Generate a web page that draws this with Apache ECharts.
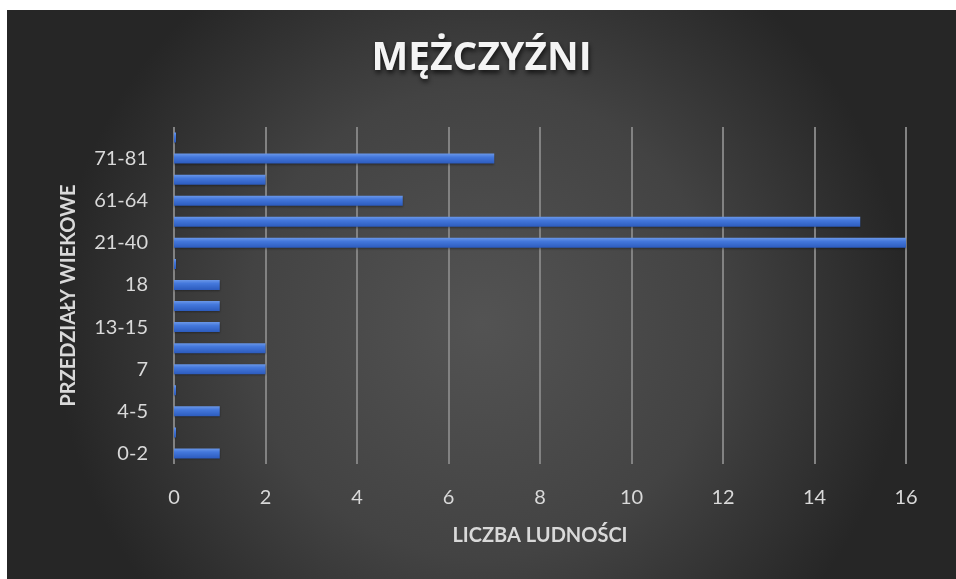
<!DOCTYPE html>
<html>
<head>
<meta charset="utf-8">
<script src="https://cdn.jsdelivr.net/npm/echarts@6/dist/echarts.min.js"></script>
<style>
  html, body { margin: 0; padding: 0; background: #ffffff; }
  #chart { position: absolute; left: 7px; top: 10px; width: 949px; height: 569px; }
</style>
</head>
<body>
<div id="chart"></div>
<script>
// Data (bottom to top)
const categories = ["0-2", "3", "4-5", "6", "7", "8-12", "13-15", "16-17", "18", "19-20", "21-40", "41-60", "61-64", "65-70", "71-81", "82+"];
const values = [1, 0, 1, 0, 2, 2, 1, 1, 1, 0, 16, 15, 5, 2, 7, 0];
const xTicks = [0, 2, 4, 6, 8, 10, 12, 14, 16];
const titleText = "MĘŻCZYŹNI";
const xName = "LICZBA LUDNOŚCI";
const yName = "PRZEDZIAŁY WIEKOWE";

const chart = echarts.init(document.getElementById('chart'), null, { renderer: 'canvas' });
const font = 'Lato, "Open Sans", sans-serif';

chart.setOption({
  backgroundColor: new echarts.graphic.RadialGradient(0.5, 0.55, 0.75, [
    { offset: 0, color: '#535353' },
    { offset: 0.55, color: '#434343' },
    { offset: 1, color: '#262626' }
  ]),
  title: {
    text: titleText,
    left: 'center',
    top: 24,
    textStyle: {
      color: '#f4f4f4',
      fontSize: 39,
      fontWeight: 'bold',
      fontFamily: '"Open Sans", Lato, sans-serif',
      textShadowColor: 'rgba(0,0,0,0.7)',
      textShadowBlur: 5,
      textShadowOffsetY: 3,
      textShadowOffsetX: 1
    }
  },
  grid: { left: 167, top: 117, width: 732, height: 337, containLabel: false },
  xAxis: {
    type: 'value',
    min: xTicks[0],
    max: xTicks[xTicks.length - 1],
    interval: 2,
    name: xName,
    nameLocation: 'middle',
    nameGap: 62,
    nameTextStyle: { color: '#d9d9d9', fontSize: 20, fontWeight: 'bold', fontFamily: font },
    axisLine: { show: false },
    axisTick: { show: false },
    axisLabel: { color: '#d9d9d9', fontSize: 20, fontFamily: font, margin: 24 },
    splitLine: { show: true, lineStyle: { color: '#828282', width: 2 } }
  },
  yAxis: {
    type: 'category',
    data: categories,
    name: yName,
    nameLocation: 'middle',
    nameRotate: 90,
    nameGap: 95,
    nameTextStyle: { color: '#d9d9d9', fontSize: 20, fontWeight: 'bold', fontFamily: font },
    axisLine: { show: false },
    axisTick: { show: false },
    axisLabel: { color: '#d9d9d9', fontSize: 20, fontFamily: font, margin: 26, interval: 1 },
    splitLine: { show: false }
  },
  series: [{
    type: 'bar',
    data: values,
    barWidth: 10,
    barMinHeight: 2,
    itemStyle: {
      color: new echarts.graphic.LinearGradient(0, 0, 0, 1, [
        { offset: 0, color: '#6a97e8' },
        { offset: 0.35, color: '#4478dc' },
        { offset: 1, color: '#2c5bbd' }
      ]),
      shadowColor: 'rgba(0,0,0,0.35)',
      shadowBlur: 2,
      shadowOffsetY: 1
    },
    silent: true
  }],
  animation: false
});
</script>
</body>
</html>
